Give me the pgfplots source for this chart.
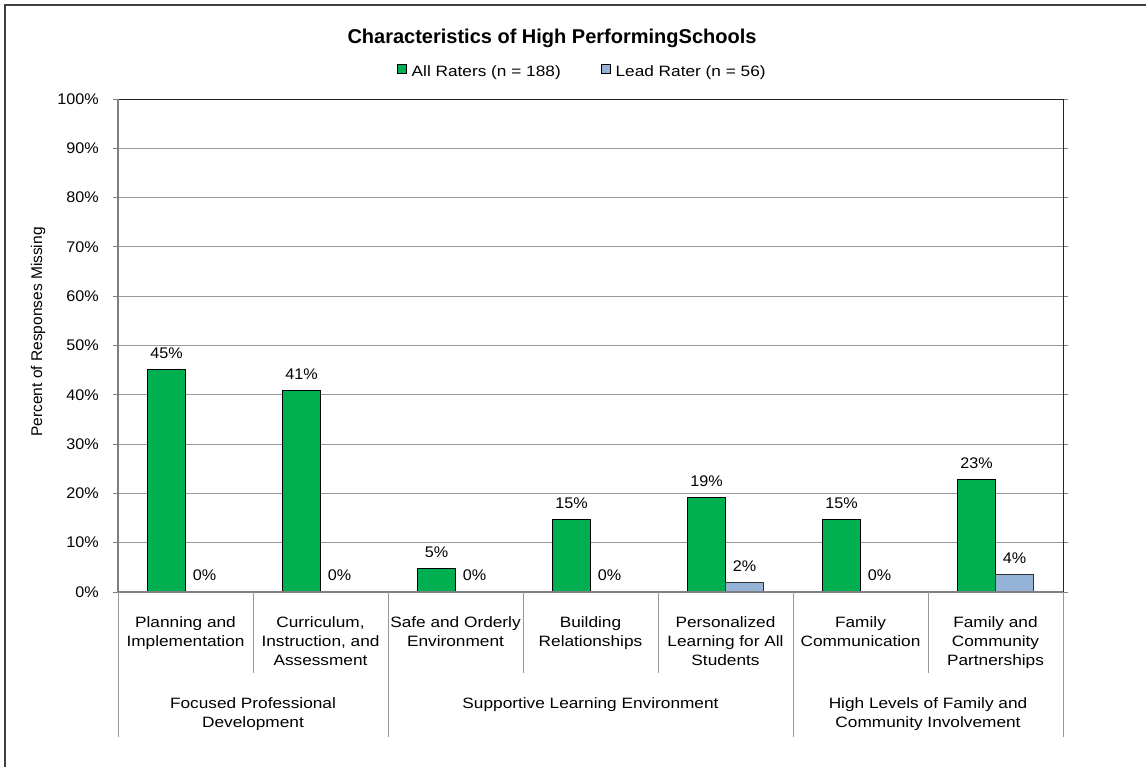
\documentclass[border=0pt]{standalone}
\usepackage{pgfplots}
\pgfplotsset{compat=1.18}
\usepackage{fontspec}
\setmainfont{Liberation Sans}
\newfontfamily\wideA{Liberation Sans}[FakeStretch=1.15]
\newfontfamily\wideB{Liberation Sans}[FakeStretch=1.05]
\definecolor{cgreen}{HTML}{00B050}
\definecolor{cblue}{HTML}{95B3D7}
\definecolor{cgrid}{HTML}{999999}
\definecolor{caxis}{HTML}{808080}
\begin{document}
\begin{tikzpicture}
\path[use as bounding box] (0pt,0pt) rectangle (1146pt,767pt);
\draw[black!75, line width=1.3pt] (5pt,0pt) -- (5pt,762pt) -- (1146pt,762pt);
\node[anchor=base, inner sep=0pt, font=\bfseries\fontsize{20}{24}\selectfont] at (552pt,723.7pt) {Characteristics of High PerformingSchools};
\node[rotate=90, inner sep=0pt, font=\fontsize{15.5}{19}\selectfont] at (38pt,435pt) {Percent of Responses Missing};
\begin{axis}[
  at={(118pt,175pt)}, anchor=south west,
  scale only axis, width=945pt, height=493pt,
  xmin=-0.5, xmax=6.5, ymin=0, ymax=100,
  ybar=0pt, bar width=38pt,
  axis line style={draw=none},
  ymajorgrids, grid style={cgrid, line width=0.8pt},
  ytick={0,10,...,100},
  yticklabels={0\%,10\%,20\%,30\%,40\%,50\%,60\%,70\%,80\%,90\%,100\%},
  tick align=outside, major tick length=5pt,
  ytick style={draw=caxis, line width=0.8pt},
  yticklabel style={font=\wideB\fontsize{15.4}{19}\selectfont, inner sep=0pt, anchor=east},
  yticklabel shift=14pt,
  xtick={0,1,2,3,4,5,6},
  xtick style={draw=none},
  xticklabels={{Planning and\\Implementation},{Curriculum,\\Instruction, and\\Assessment},{Safe and Orderly\\Environment},{Building\\Relationships},{Personalized\\Learning for All\\Students},{Family\\Communication},{Family and\\Community\\Partnerships}},
  xticklabel style={align=center, font=\wideA\fontsize{15}{19}\selectfont, inner sep=0pt, anchor=north},
  xticklabel shift=19pt,
  clip=false,
  nodes near coords={\pgfmathprintnumber[fixed,precision=0,assume math mode=true]{\pgfplotspointmeta}\%},
  point meta=y,
  every node near coord/.append style={font=\wideB\fontsize{15.4}{19}\selectfont, anchor=base, inner sep=0pt, yshift=11pt, black},
  legend style={at={(rel axis cs:0.2949,1.057)}, anchor=west, draw=none, fill=none, inner sep=0pt,
    legend columns=2, font=\wideA\fontsize{15}{19}\selectfont,
    nodes={inner sep=0pt},
    /tikz/every odd column/.append style={column sep=4.7pt},
    /tikz/every even column/.append style={column sep=40pt}},
  legend image code/.code={\draw[#1, draw=black, line width=0.8pt] (0pt,-1.5pt) rectangle (9.3pt,7.8pt);},
]
\addplot[fill=cgreen, draw=black, line width=0.9pt] coordinates {(0,45.2) (1,40.8) (2,4.8) (3,14.8) (4,19.1) (5,14.8) (6,22.9)};
\addlegendentry{All Raters (n = 188)}
\addplot[fill=cblue, draw=black!80, line width=0.9pt] coordinates {(0,0) (1,0) (2,0) (3,0) (4,1.9) (5,0) (6,3.6)};
\addlegendentry{Lead Rater (n = 56)}
% plot area border
\draw[black!85, line width=0.9pt] (rel axis cs:0,1) -- (rel axis cs:1,1) -- (rel axis cs:1,0);
\draw[caxis, line width=1.2pt] (rel axis cs:0,1) -- (rel axis cs:0,0) -- (rel axis cs:1,0);
% category separators
\draw[cgrid, line width=0.8pt] (axis cs:0.5,0) -- ++(0pt,-81pt);
\draw[cgrid, line width=0.8pt] (axis cs:2.5,0) -- ++(0pt,-81pt);
\draw[cgrid, line width=0.8pt] (axis cs:3.5,0) -- ++(0pt,-81pt);
\draw[cgrid, line width=0.8pt] (axis cs:5.5,0) -- ++(0pt,-81pt);
\draw[cgrid, line width=0.8pt] (axis cs:-0.5,0) -- ++(0pt,-145pt);
\draw[cgrid, line width=0.8pt] (axis cs:1.5,0) -- ++(0pt,-145pt);
\draw[cgrid, line width=0.8pt] (axis cs:4.5,0) -- ++(0pt,-145pt);
\draw[cgrid, line width=0.8pt] (axis cs:6.5,0) -- ++(0pt,-145pt);
% group labels
\node[anchor=north, align=center, inner sep=0pt, font=\wideA\fontsize{15}{19}\selectfont] at (axis cs:0.5,0) [yshift=-105.3pt] {Focused Professional\\Development};
\node[anchor=north, align=center, inner sep=0pt, font=\wideA\fontsize{15}{19}\selectfont] at (axis cs:3,0) [yshift=-105.3pt] {Supportive Learning Environment};
\node[anchor=north, align=center, inner sep=0pt, font=\wideA\fontsize{15}{19}\selectfont] at (axis cs:5.5,0) [yshift=-105.3pt] {High Levels of Family and\\Community Involvement};
\end{axis}
\end{tikzpicture}
\end{document}
